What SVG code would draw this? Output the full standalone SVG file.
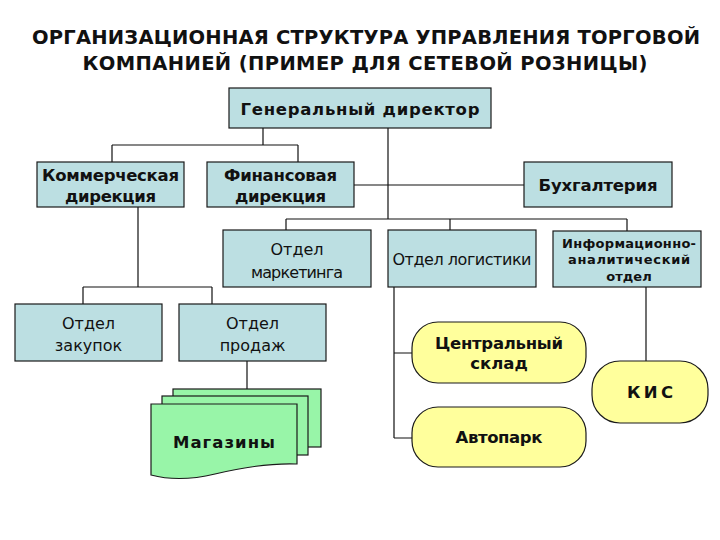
<svg xmlns="http://www.w3.org/2000/svg" width="720" height="540" viewBox="0 0 720 540">
<style>
.title{font-family:"DejaVu Sans","Verdana",sans-serif;font-weight:bold;font-size:19.5px;fill:#111;text-anchor:middle}
.b{fill:#BCDFE2;stroke:#1a1a1a;stroke-width:1.2}
.y{fill:#FFFF9C;stroke:#1a1a1a;stroke-width:1.2}
.g{fill:#98F5A8;stroke:#1a1a1a;stroke-width:1.2}
.tb{font-family:"DejaVu Sans",sans-serif;font-weight:bold;font-size:16.5px;fill:#111;text-anchor:middle;dominant-baseline:central}
.ts{font-family:"DejaVu Sans",sans-serif;font-weight:bold;font-size:13px;fill:#111;text-anchor:middle;dominant-baseline:central}
.tr{font-family:"DejaVu Sans",sans-serif;font-size:16px;fill:#111;text-anchor:middle;dominant-baseline:central}
.c{fill:none;stroke:#111;stroke-width:1.2}
</style>
<rect width="720" height="540" fill="#fff"/>
<g id="title">
<text class="title" x="366" y="44" textLength="668">ОРГАНИЗАЦИОННАЯ СТРУКТУРА УПРАВЛЕНИЯ ТОРГОВОЙ</text>
<text class="title" x="365" y="70" textLength="565">КОМПАНИЕЙ (ПРИМЕР ДЛЯ СЕТЕВОЙ РОЗНИЦЫ)</text>
</g>
<g id="connectors" class="c">
<path d="M263,128V145M112,145H298M112,145V162M298,145V162"/>
<path d="M388,128V219"/>
<path d="M354,185H524"/>
<path d="M286,219H627M286,219V230M450,219V230M627,219V231"/>
<path d="M138,207V287M83,287H212M83,287V304M212,287V304"/>
<path d="M247,360V389"/>
<path d="M394,287V438M394,353H412M394,438H412"/>
<path d="M646,287V361"/>
</g>
<g id="gen">
<rect class="b" x="229" y="88" width="262" height="40"/>
<text class="tb" x="360" y="109" textLength="239">Генеральный директор</text>
</g>
<g id="kom">
<rect class="b" x="37" y="162" width="147" height="45"/>
<text class="tb" x="110.5" y="175" textLength="137">Коммерческая</text>
<text class="tb" x="110.5" y="196" textLength="91">дирекция</text>
</g>
<g id="fin">
<rect class="b" x="207" y="162" width="147" height="45"/>
<text class="tb" x="280.5" y="175" textLength="113">Финансовая</text>
<text class="tb" x="280.5" y="196" textLength="91">дирекция</text>
</g>
<g id="buh">
<rect class="b" x="524" y="162" width="148" height="45"/>
<text class="tb" x="598" y="185" textLength="119">Бухгалтерия</text>
</g>
<g id="mark">
<rect class="b" x="223" y="230" width="148" height="57"/>
<text class="tr" x="297" y="249">Отдел</text>
<text class="tr" x="297" y="272" textLength="92">маркетинга</text>
</g>
<g id="log">
<rect class="b" x="388" y="230" width="148" height="57"/>
<text class="tr" x="462" y="259" textLength="139">Отдел логистики</text>
</g>
<g id="info">
<rect class="b" x="553" y="231" width="148" height="56"/>
<text class="ts" x="629" y="243" textLength="134">Информационно-</text>
<text class="ts" x="629" y="259" textLength="122">аналитический</text>
<text class="ts" x="629" y="276">отдел</text>
</g>
<g id="zak">
<rect class="b" x="15" y="304" width="147" height="57"/>
<text class="tr" x="88.5" y="323">Отдел</text>
<text class="tr" x="88.5" y="345">закупок</text>
</g>
<g id="prod">
<rect class="b" x="179" y="304" width="147" height="57"/>
<text class="tr" x="252.5" y="323">Отдел</text>
<text class="tr" x="252.5" y="345">продаж</text>
</g>
<g id="mag">
<rect class="g" x="173" y="389" width="148" height="58"/>
<rect class="g" x="162" y="396" width="146" height="59"/>
<path class="g" d="M151,404H297V464C270,463 240,468 215,474C190,480 170,480 151,475Z"/>
<text class="tb" x="224" y="442" textLength="102">Магазины</text>
</g>
<g id="sklad">
<rect class="y" x="412" y="322" width="174" height="61" rx="26"/>
<text class="tb" x="499" y="343" textLength="128">Центральный</text>
<text class="tb" x="499" y="363">склад</text>
</g>
<g id="avto">
<rect class="y" x="412" y="407" width="174" height="60" rx="26"/>
<text class="tb" x="499" y="437" textLength="87">Автопарк</text>
</g>
<g id="kis">
<rect class="y" x="592" y="361" width="116" height="62" rx="28"/>
<text class="tb" x="650" y="392" textLength="46">К И С</text>
</g>
</svg>
